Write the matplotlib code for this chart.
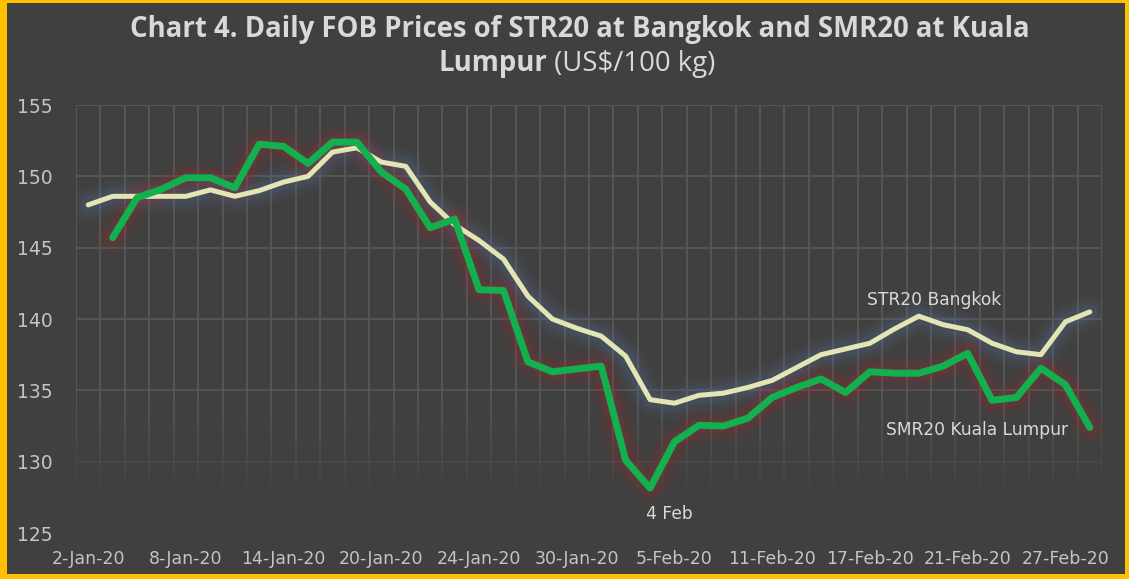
"""Daily FOB prices of STR20 (Bangkok) and SMR20 (Kuala Lumpur), Jan-Feb 2020."""

import matplotlib
matplotlib.use("Agg")
import matplotlib.pyplot as plt
import numpy as np
from matplotlib.collections import LineCollection
from matplotlib.patches import Rectangle

# trading days, 2-Jan-20 .. 28-Feb-20 (42 days); only every 4th is labelled
tick_labels = ["2-Jan-20", "8-Jan-20", "14-Jan-20", "20-Jan-20", "24-Jan-20", "30-Jan-20",
               "5-Feb-20", "11-Feb-20", "17-Feb-20", "21-Feb-20", "27-Feb-20"]

str20_bangkok = [148.0, 148.6, 148.6, 148.6, 148.6, 149.05, 148.6, 149.0, 149.6, 150.0,
                 151.7, 152.0, 151.0, 150.7, 148.2, 146.6, 145.5, 144.2, 141.6, 140.0,
                 139.35, 138.8, 137.4, 134.35, 134.1, 134.65, 134.8, 135.2, 135.7, 136.6,
                 137.5, 137.9, 138.3, 139.3, 140.2, 139.6, 139.25, 138.3, 137.7, 137.5,
                 139.8, 140.5]

smr20_kl = [np.nan, 145.7, 148.5, 149.1, 149.9, 149.9, 149.2, 152.25, 152.1, 150.9,
            152.4, 152.4, 150.3, 149.1, 146.4, 147.0, 142.05, 142.0, 137.0, 136.3,
            136.5, 136.7, 130.1, 128.15, 131.4, 132.55, 132.5, 133.05, 134.5, 135.2,
            135.8, 134.85, 136.3, 136.2, 136.2, 136.7, 137.6, 134.3, 134.5, 136.55,
            135.4, 132.4]

BG = "#404040"
GOLD = "#FFC000"
GRID = "#585858"
TXT = "#D9D9D9"
TICK = "#C4C4C4"

W, H = 1129, 579
fig = plt.figure(figsize=(W / 100, H / 100), dpi=100)
fig.patch.set_facecolor(GOLD)
# gold frame: 7px left, 4px right, 3px top, 5px bottom
fig.add_artist(Rectangle((7 / W, 5 / H), 1 - 11 / W, 1 - 8 / H, transform=fig.transFigure,
                         facecolor=BG, edgecolor="none", zorder=-10))

ax = fig.add_axes([76 / W, 1 - 533 / H, (1102 - 76) / W, (533 - 105) / H])
ax.set_facecolor("none")
for s in ax.spines.values():
    s.set_visible(False)

n = len(str20_bangkok)
x = np.arange(n)
ax.set_xlim(-0.5, n - 0.5)
ax.set_ylim(125, 155)

# grid fades out toward the bottom of the plot
segs, alphas = [], []
fade = np.linspace(127.5, 135, 16)
for b in np.arange(-0.5, n, 1.0):
    segs.append([(b, 135), (b, 155)])
    alphas.append(1.0)
    for y0, y1 in zip(fade[:-1], fade[1:]):
        segs.append([(b, y0), (b, y1)])
        alphas.append((y1 - 127.5) / 7.5)
for yv, a in [(155, 1), (150, 1), (145, 1), (140, 1), (135, 0.85), (130, 0.3)]:
    segs.append([(-0.5, yv), (n - 0.5, yv)])
    alphas.append(a)
cols = [matplotlib.colors.to_rgba(GRID, a) for a in alphas]
ax.add_collection(LineCollection(segs, colors=cols, linewidths=1.3, zorder=1))

# soft glow under the lines
for lw, a in [(24, 0.07), (17, 0.10), (11, 0.15)]:
    ax.plot(x, str20_bangkok, color="#55709c", lw=lw, alpha=a, solid_capstyle="round", zorder=2)
for lw, a in [(24, 0.07), (17, 0.10), (11, 0.15)]:
    ax.plot(x, smr20_kl, color="#a8282c", lw=lw, alpha=a, solid_capstyle="round", zorder=2)

ax.plot(x, str20_bangkok, color="#E3E5B5", lw=3.6, solid_capstyle="round", zorder=3)
ax.plot(x, smr20_kl, color="#12B04F", lw=5, solid_capstyle="round", zorder=4)

ax.set_yticks(np.arange(125, 156, 5))
ax.set_xticks(x[::4])
ax.set_xticklabels(tick_labels)
ax.tick_params(axis="both", length=0, colors=TICK)
ax.tick_params(axis="y", labelsize=13.5, pad=16.5)
ax.tick_params(axis="x", labelsize=12.5, pad=12)

ax.text(34.62, 141.35, "STR20 Bangkok", color=TXT, fontsize=12.3, ha="center", va="center")
ax.text(36.37, 132.25, "SMR20 Kuala Lumpur", color=TXT, fontsize=12.3, ha="center", va="center")
ax.text(23.77, 126.3, "4 Feb", color=TXT, fontsize=12.3, ha="center", va="center")

title_font = ["Open Sans", "DejaVu Sans"]
fig.text(580 / W, 1 - 30 / H, "Chart 4. Daily FOB Prices of STR20 at Bangkok and SMR20 at Kuala",
         ha="center", va="center", color=TXT, fontsize=19.8, fontweight="bold", family=title_font)
fig.text(547 / W, 1 - 64 / H, "Lumpur", ha="right", va="center", color=TXT,
         fontsize=19.8, fontweight="bold", family=title_font)
fig.text(547 / W, 1 - 64 / H, " (US$/100 kg)", ha="left", va="center", color=TXT,
         fontsize=19.8, family=title_font)

fig.savefig("out.png", dpi=100, facecolor=fig.get_facecolor())
